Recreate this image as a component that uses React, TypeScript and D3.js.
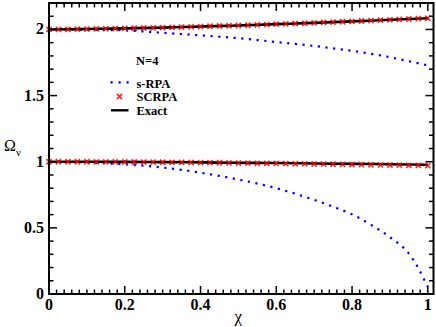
import React, { useEffect, useRef } from 'react'
import * as d3 from 'd3'

// exact results (chi step 0.1)
const exactChi = [0, 0.1, 0.2, 0.3, 0.4, 0.5, 0.6, 0.7, 0.8, 0.9, 1.0]
const exactUpper = [2.000, 2.003, 2.008, 2.014, 2.022, 2.030, 2.040, 2.050, 2.061, 2.073, 2.085]
const exactLower = [1.000, 1.000, 0.999, 0.997, 0.995, 0.992, 0.990, 0.987, 0.984, 0.981, 0.977]

// SCRPA markers (chi step 0.025)
const scrpaChi = d3.range(41).map(i => i * 0.025)
const scrpaUpper = [
  2.000, 2.000, 2.001, 2.002, 2.003, 2.004, 2.005, 2.006, 2.008, 2.009,
  2.011, 2.012, 2.014, 2.016, 2.018, 2.020, 2.022, 2.024, 2.026, 2.028,
  2.030, 2.032, 2.035, 2.037, 2.040, 2.042, 2.045, 2.047, 2.050, 2.053,
  2.055, 2.058, 2.061, 2.064, 2.067, 2.070, 2.073, 2.076, 2.079, 2.082, 2.085,
]
const scrpaLower = [
  1.000, 1.000, 1.000, 1.000, 1.000, 0.999, 0.999, 0.999, 0.998, 0.998,
  0.997, 0.997, 0.996, 0.995, 0.995, 0.994, 0.993, 0.993, 0.992, 0.991,
  0.990, 0.989, 0.988, 0.988, 0.987, 0.986, 0.985, 0.984, 0.983, 0.982,
  0.981, 0.980, 0.979, 0.978, 0.977, 0.976, 0.975, 0.974, 0.973, 0.972, 0.970,
]

// s-RPA
const srpaUpperChi = [0, 0.05, 0.1, 0.15, 0.2, 0.25, 0.3, 0.35, 0.4, 0.45, 0.5, 0.55, 0.6, 0.65, 0.7, 0.75, 0.8, 0.85, 0.9, 0.95, 1.0]
const srpaUpper = [2.000, 2.000, 1.998, 1.996, 1.993, 1.985, 1.975, 1.965, 1.955, 1.945, 1.934, 1.920, 1.905, 1.891, 1.875, 1.857, 1.838, 1.816, 1.790, 1.760, 1.728]
const srpaLowerChi = [0, 0.05, 0.1, 0.15, 0.2, 0.25, 0.3, 0.35, 0.4, 0.45, 0.5, 0.55, 0.6, 0.65, 0.7, 0.75, 0.8, 0.85, 0.9, 0.95, 0.975, 0.99, 1.0]
const srpaLower = [1.000, 0.999, 0.995, 0.988, 0.980, 0.970, 0.956, 0.938, 0.917, 0.893, 0.865, 0.835, 0.800, 0.758, 0.712, 0.660, 0.602, 0.523, 0.430, 0.305, 0.195, 0.110, 0.055]

const xTicks = [0, 0.2, 0.4, 0.6, 0.8, 1]
const xTickLabels = ['0', '0.2', '0.4', '0.6', '0.8', '1']
const yTicks = [0, 0.5, 1, 1.5, 2]
const yTickLabels = ['0', '0.5', '1', '1.5', '2']

const W = 436
const H = 327
const left = 49, right = 433.5, top = 3, bottom = 294
const FONT = "'Liberation Serif', 'DejaVu Serif', serif"

const App = () => {
  const svgRef = useRef(null)

  useEffect(() => {
    const svg = d3.select(svgRef.current)
    svg.selectAll('*').remove()

    const x = d3.scaleLinear().domain([0, 1.015]).range([left, right])
    const y = d3.scaleLinear().domain([0, 2.2]).range([bottom, top])

    const line = d3.line<[number, number]>()
      .x(d => x(d[0]))
      .y(d => y(d[1]))
      .curve(d3.curveMonotoneX)

    const zip = (a: number[], b: number[]) => a.map((v, i) => [v, b[i]] as [number, number])

    const plot = svg.append('g')

    // s-RPA dotted
    ;[zip(srpaUpperChi, srpaUpper), zip(srpaLowerChi, srpaLower)].forEach(pts => {
      plot.append('path')
        .attr('d', line(pts))
        .attr('fill', 'none')
        .attr('stroke', '#0000ff')
        .attr('stroke-width', 2.2)
        .attr('stroke-dasharray', '2.2 5.5')
    })

    // exact
    ;[zip(exactChi, exactUpper), zip(exactChi, exactLower)].forEach(pts => {
      plot.append('path')
        .attr('d', line(pts))
        .attr('fill', 'none')
        .attr('stroke', '#000')
        .attr('stroke-width', 2.6)
    })

    // SCRPA crosses
    const cross = (sel, cx: number, cy: number) => {
      const s = 2.6
      sel.append('path')
        .attr('d', `M${cx - s},${cy - s}L${cx + s},${cy + s}M${cx - s},${cy + s}L${cx + s},${cy - s}`)
        .attr('stroke', '#ff0000')
        .attr('stroke-width', 1.6)
        .attr('stroke-opacity', 0.85)
    }
    ;[scrpaUpper, scrpaLower].forEach(vals => {
      vals.forEach((v, i) => cross(plot, x(scrpaChi[i]), y(v)))
    })

    // ticks on all four sides, pointing inward
    const ticks = svg.append('g').attr('stroke', '#000').attr('stroke-width', 1.5)
    const xMinor = d3.range(0, 51).map(i => i * 0.02)
    xMinor.forEach(t => {
      const major = xTicks.some(m => Math.abs(m - t) < 1e-6)
      const len = major ? 8 : 4.5
      ticks.append('line').attr('x1', x(t)).attr('x2', x(t)).attr('y1', bottom).attr('y2', bottom - len)
      ticks.append('line').attr('x1', x(t)).attr('x2', x(t)).attr('y1', top).attr('y2', top + len)
    })
    const yMinor = d3.range(0, 22).map(i => i * 0.1)
    yMinor.forEach(t => {
      const major = yTicks.some(m => Math.abs(m - t) < 1e-6)
      const len = major ? 8 : 4.5
      ticks.append('line').attr('x1', left).attr('x2', left + len).attr('y1', y(t)).attr('y2', y(t))
      ticks.append('line').attr('x1', right).attr('x2', right - len).attr('y1', y(t)).attr('y2', y(t))
    })

    // frame
    svg.append('rect')
      .attr('x', left).attr('y', top)
      .attr('width', right - left).attr('height', bottom - top)
      .attr('fill', 'none').attr('stroke', '#000').attr('stroke-width', 2)

    // tick labels
    const labels = svg.append('g')
      .style('font-family', FONT).style('font-weight', 'bold').style('font-size', '16px').attr('fill', '#000')
    xTicks.forEach((t, i) => {
      labels.append('text').attr('x', x(t)).attr('y', 310).attr('text-anchor', 'middle').text(xTickLabels[i])
    })
    yTicks.forEach((t, i) => {
      labels.append('text').attr('x', 44).attr('y', y(t) + 5).attr('text-anchor', 'end').text(yTickLabels[i])
    })

    // axis titles
    svg.append('text')
      .attr('x', (left + right) / 2 - 3).attr('y', 322)
      .attr('text-anchor', 'middle')
      .style('font-family', FONT).style('font-size', '17px')
      .text('χ')
    const yl = svg.append('text')
      .attr('x', 4).attr('y', 151)
      .style('font-family', FONT).style('font-size', '16px')
    yl.append('tspan').text('Ω')
    yl.append('tspan').style('font-size', '11px').attr('dy', 5).text('ν')

    // legend
    const lg = svg.append('g').style('font-family', FONT).style('font-weight', 'bold').style('font-size', '12.5px')
    lg.append('text').attr('x', 136).attr('y', 64.5).text('N=4')
    lg.append('line').attr('x1', 110.5).attr('x2', 130).attr('y1', 82.3).attr('y2', 82.3)
      .attr('stroke', '#0000ff').attr('stroke-width', 2.2).attr('stroke-dasharray', '2.2 5.8')
    lg.append('text').attr('x', 136.5).attr('y', 87.5).text('s-RPA')
    cross(lg, 119.5, 96.5)
    lg.append('text').attr('x', 136.5).attr('y', 100.8).text('SCRPA')
    lg.append('line').attr('x1', 111).attr('x2', 128.5).attr('y1', 110.3).attr('y2', 110.3)
      .attr('stroke', '#000').attr('stroke-width', 2.4)
    lg.append('text').attr('x', 136.5).attr('y', 114.7).text('Exact')
  }, [])

  return (
    <svg
      ref={svgRef}
      width={W}
      height={H}
      style={{ position: 'absolute', left: 0, top: 0, background: '#fff' }}
    />
  )
}

export default App
